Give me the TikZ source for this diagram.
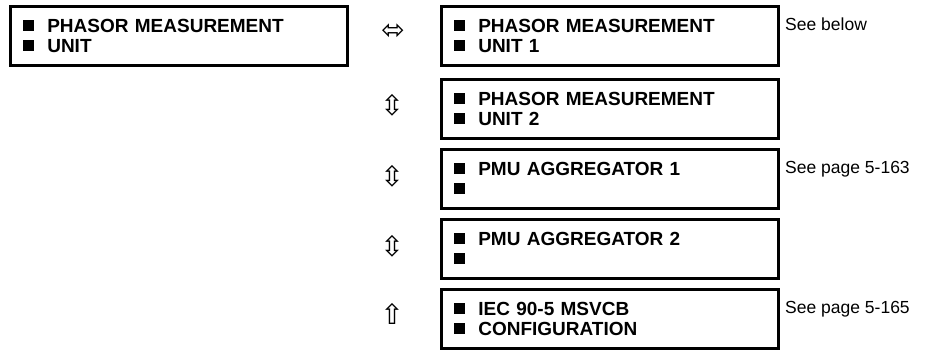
\documentclass[tikz,border=0pt]{standalone}
\usepackage{fontspec}
\setmainfont{Liberation Sans}
\newfontfamily\symfont{DejaVu Sans}
\newcommand{\bul}{\raisebox{1.5pt}{\rule{10.5pt}{10.5pt}}\hspace{13.5pt}}
\tikzset{
  menubox/.style={draw, line width=2.6pt, anchor=north west, align=left,
    text width=311pt, inner xsep=13pt, inner ysep=0pt, minimum height=59pt,
    font=\fontsize{19}{20}\selectfont\bfseries},
  seelabel/.style={anchor=base west, inner sep=0pt, font=\fontsize{17.5}{20}\selectfont},
  arrowsym/.style={inner sep=0pt, font=\symfont\fontsize{28}{28}\selectfont},
}
\begin{document}
\begin{tikzpicture}[x=1pt,y=-1pt]
\useasboundingbox (0,0) rectangle (938,349);
\node[menubox] (main) at (9,5) {\bul PHASOR MEASUREMENT\\\bul UNIT};
\node[menubox] (pmu1) at (440,5) {\bul PHASOR MEASUREMENT\\\bul UNIT 1};
\node[menubox] (pmu2) at (440,78) {\bul PHASOR MEASUREMENT\\\bul UNIT 2};
\node[menubox] (agg1) at (440,148) {\bul PMU AGGREGATOR 1\\\bul};
\node[menubox] (agg2) at (440,218) {\bul PMU AGGREGATOR 2\\\bul};
\node[menubox] (iec) at (440,288) {\bul IEC 90-5 MSVCB\\\bul CONFIGURATION};
\node[seelabel] (l1) at (785,30) {See below};
\node[seelabel] (l3) at (785,173) {See page 5-163};
\node[seelabel] (l5) at (785,313) {See page 5-165};
\node[arrowsym] (a1) at (393,32) {⬄};
\node[arrowsym] (a2) at (392,105) {⇳};
\node[arrowsym] (a3) at (392,176) {⇳};
\node[arrowsym] (a4) at (392,246) {⇳};
\node[arrowsym] (a5) at (392,314) {⇧};
\end{tikzpicture}
\end{document}
